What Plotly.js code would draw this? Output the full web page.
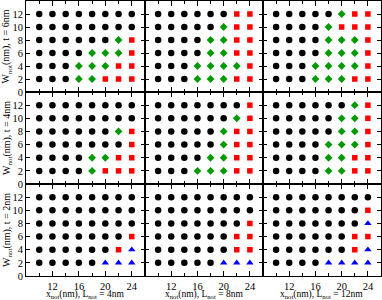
<!DOCTYPE html>
<html><head><meta charset="utf-8">
<script src="https://cdn.plot.ly/plotly-3.0.1.min.js"></script>
<style>body{margin:0;background:#fff}</style>
</head><body><div id="chart" style="width:382px;height:300px"></div>
<script>
// Grid of notch positions (x) and notch widths (y)
const xVals = [10, 12, 14, 16, 18, 20, 22, 24];
const yVals = [12, 10, 8, 6, 4, 2];          // rows listed top to bottom
const thicknessLabels = ['6nm', '4nm', '2nm'];
const notchLengthLabels = ['4nm', '8nm', '12nm'];
const xTickVals = [12, 16, 20, 24];
const xMinorTickVals = [10, 14, 18, 22];
const yTickVals = [0, 2, 4, 6, 8, 10, 12];

// State per grid point: c = black circle, d = green diamond, s = red square, t = blue triangle
const state_t6_L4  = ['cccccccc', 'cccccccc', 'ccccccds', 'ccccddds', 'cccdddss', 'cccddsss'];
const state_t6_L8  = ['ccccccss', 'cccccdss', 'ccccddss', 'ccccddss', 'cccdddds', 'cccdddss'];
const state_t6_L12 = ['cccccdss', 'ccccdsss', 'ccccddds', 'ccccddds', 'cccdddds', 'cccdddss'];
const state_t4_L4  = ['cccccccc', 'cccccccc', 'ccccccds', 'cccccccs', 'ccccddss', 'ccccdsss'];
const state_t4_L8  = ['cccccccs', 'ccccccds', 'cccccdss', 'cccccdss', 'ccccddss', 'cccdddss'];
const state_t4_L12 = ['ccccccds', 'cccccdds', 'cccccdds', 'ccccddds', 'ccccddss', 'ccccddss'];
const state_t2_L4  = ['cccccccc', 'cccccccc', 'cccccccc', 'cccccccs', 'ccccccst', 'cccccttt'];
const state_t2_L8  = ['cccccccc', 'cccccccc', 'cccccccs', 'ccccccss', 'ccccccss', 'cccccttt'];
const state_t2_L12 = ['cccccccc', 'cccccccs', 'ccccccct', 'ccccccss', 'ccccccst', 'cccctttt'];

const panels = [state_t6_L4, state_t6_L8, state_t6_L12,
                state_t4_L4, state_t4_L8, state_t4_L12,
                state_t2_L4, state_t2_L8, state_t2_L12];

const styles = {
  c: {symbol: 'circle', size: 6.5, color: '#000000'},
  d: {symbol: 'diamond', size: 6, color: '#009a00'},
  s: {symbol: 'square', size: 5.5, color: '#ff0000'},
  t: {symbol: 'triangle-up', size: 6.5, color: '#0000ff'}
};

const font = {family: 'Liberation Serif, Times New Roman, serif', size: 10.5, color: '#000'};
const colDom = [[0, 0.3352], [0.3352, 0.6676], [0.6676, 1]];
const rowDom = [[0.669, 1], [0.3345, 0.669], [0, 0.3345]];

const traces = [];
const layout = {
  width: 382, height: 300,
  margin: {l: 26, r: 1, t: 1, b: 24},
  paper_bgcolor: '#fff', plot_bgcolor: '#fff',
  showlegend: false,
  font: font,
  annotations: []
};

panels.forEach((grid, i) => {
  const row = Math.floor(i / 3), col = i % 3;
  const n = i + 1;
  const xa = n === 1 ? 'x' : 'x' + n;
  const ya = n === 1 ? 'y' : 'y' + n;
  Object.keys(styles).forEach(code => {
    const xs = [], ys = [];
    grid.forEach((line, r) => {
      for (let k = 0; k < line.length; k++) {
        if (line[k] === code) { xs.push(xVals[k]); ys.push(yVals[r]); }
      }
    });
    if (xs.length) {
      traces.push({
        type: 'scatter', mode: 'markers', x: xs, y: ys,
        xaxis: xa, yaxis: ya, hoverinfo: 'skip',
        marker: {symbol: styles[code].symbol, size: styles[code].size,
                 color: styles[code].color, line: {width: 0}}
      });
    }
  });
  layout[n === 1 ? 'xaxis' : 'xaxis' + n] = {
    domain: colDom[col], anchor: ya, range: [8, 26],
    showline: true, linecolor: '#000', linewidth: 1, mirror: 'ticks',
    ticks: 'inside', ticklen: 5, tickcolor: '#000', tickwidth: 1,
    tickvals: xTickVals, showticklabels: row === 2, ticklabelstandoff: 0,
    minor: {tickvals: xMinorTickVals, ticks: 'inside', ticklen: 3, tickcolor: '#000', tickwidth: 1},
    showgrid: false, zeroline: false, tickfont: font, fixedrange: true
  };
  layout[n === 1 ? 'yaxis' : 'yaxis' + n] = {
    domain: rowDom[row], anchor: xa, range: [0, 14],
    showline: true, linecolor: '#000', linewidth: 1, mirror: 'ticks',
    ticks: 'inside', ticklen: 4, tickcolor: '#000', tickwidth: 1,
    tickvals: yTickVals, showticklabels: col === 0,
    showgrid: false, zeroline: false, tickfont: font, fixedrange: true
  };
});

notchLengthLabels.forEach((L, c) => {
  layout.annotations.push({
    xref: 'paper', yref: 'paper',
    x: (colDom[c][0] + colDom[c][1]) / 2, y: -0.045,
    xanchor: 'center', yanchor: 'top', showarrow: false, borderpad: 0,
    text: 'x<sub>not</sub>(nm), L<sub>not</sub> = ' + L,
    font: {family: font.family, size: 9.5, color: '#000'}
  });
});
thicknessLabels.forEach((t, r) => {
  layout.annotations.push({
    xref: 'paper', yref: 'paper',
    x: -0.0535, y: (rowDom[r][0] + rowDom[r][1]) / 2,
    xanchor: 'center', yanchor: 'middle', showarrow: false, textangle: -90,
    text: 'W<sub>not</sub>(nm), t = ' + t,
    font: {family: font.family, size: 10, color: '#000'}
  });
});

Plotly.newPlot('chart', traces, layout, {displayModeBar: false, staticPlot: true});
</script>
</body></html>
